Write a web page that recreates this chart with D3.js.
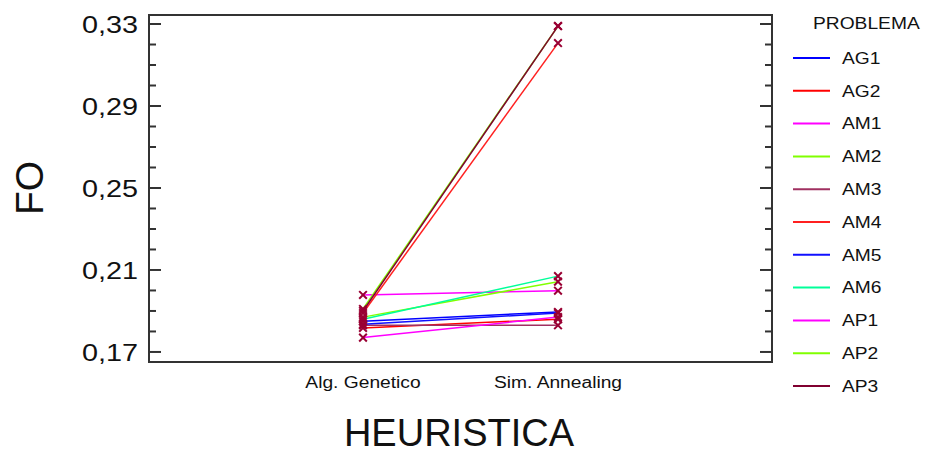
<!DOCTYPE html>
<html lang="es">
<head>
  <meta charset="UTF-8">
  <title>FO por HEURISTICA</title>
  <script src="https://d3js.org/d3.v7.min.js"></script>
  <style>
    body { margin: 0; background: #fff; }
    text { font-family: "Liberation Sans", Arial, sans-serif; fill: #111; }
    .frame { fill: none; stroke: #333; stroke-width: 2; }
    .tick-line { stroke: #333; stroke-width: 2; }
    .series { fill: none; stroke-width: 1.5; }
  </style>
</head>
<body>
<svg width="928" height="453"></svg>
<script>
  // categorias del eje X
  const heuristics = ["Alg. Genetico", "Sim. Annealing"];

  // problemas (series) y sus colores
  const problems = ["AG1", "AG2", "AM1", "AM2", "AM3", "AM4", "AM5", "AM6", "AP1", "AP2", "AP3"];
  const colors = ["#0000ff", "#ff0000", "#ff00ff", "#80ff00", "#a03060", "#ff2020",
                  "#1010ff", "#00ff99", "#ff00ff", "#80ff00", "#800030"];

  // FO por heuristica: [Alg. Genetico, Sim. Annealing]
  const AG1 = [0.1850, 0.1895];
  const AG2 = [0.1817, 0.1860];
  const AM1 = [0.1978, 0.1999];
  const AM2 = [0.1870, 0.2043];
  const AM3 = [0.1830, 0.1830];
  const AM4 = [0.1890, 0.3207];
  const AM5 = [0.1835, 0.1890];
  const AM6 = [0.1860, 0.2070];
  const AP1 = [0.1770, 0.1870];
  const AP2 = [0.1910, 0.3290];
  const AP3 = [0.1900, 0.3290];
  const seriesValues = [AG1, AG2, AM1, AM2, AM3, AM4, AM5, AM6, AP1, AP2, AP3];

  const majorTicks = [0.17, 0.21, 0.25, 0.29, 0.33];
  const minorTicks = [0.18, 0.19, 0.20, 0.22, 0.23, 0.24, 0.26, 0.27, 0.28, 0.30, 0.31, 0.32];

  const svg = d3.select("svg");
  const plot = {left: 149, right: 772, top: 15, bottom: 362};

  const x = d3.scalePoint().domain(heuristics).range([plot.left, plot.right]).padding(1.0975);
  const y = d3.scaleLinear().domain([0.1651, 0.3344]).range([plot.bottom, plot.top]);

  const fmt = d => d3.format(".2f")(d).replace(".", ",");

  // marco
  svg.append("rect").attr("class", "frame")
     .attr("x", plot.left).attr("y", plot.top)
     .attr("width", plot.right - plot.left).attr("height", plot.bottom - plot.top);

  // marcas del eje Y (izquierda y derecha, hacia adentro)
  const ticksG = svg.append("g");
  [[plot.left, 1], [plot.right, -1]].forEach(([x0, dir]) => {
    ticksG.selectAll(null).data(majorTicks).join("line").attr("class", "tick-line")
      .attr("x1", x0).attr("x2", x0 + dir * 12)
      .attr("y1", d => y(d)).attr("y2", d => y(d));
    ticksG.selectAll(null).data(minorTicks).join("line").attr("class", "tick-line")
      .attr("x1", x0).attr("x2", x0 + dir * 7)
      .attr("y1", d => y(d)).attr("y2", d => y(d));
  });

  svg.append("g").selectAll("text").data(majorTicks).join("text")
     .attr("class", "wide")
     .attr("x", plot.left - 11).attr("y", d => y(d))
     .attr("dy", "0.36em").attr("text-anchor", "end")
     .style("font-size", "24px").text(fmt);

  svg.append("g").selectAll("text").data(heuristics).join("text")
     .attr("class", "wide")
     .attr("x", d => x(d)).attr("y", 388)
     .attr("text-anchor", "middle")
     .style("font-size", "16px").text(d => d);

  // titulos de ejes
  svg.append("text").attr("x", 459).attr("y", 446).attr("text-anchor", "middle")
     .style("font-size", "38px").text("HEURISTICA");
  svg.append("text").attr("transform", "translate(43,188) rotate(-90)")
     .attr("text-anchor", "middle").style("font-size", "39px").text("FO");

  // series
  const line = d3.line().x((d, i) => x(heuristics[i])).y(d => y(d));
  svg.append("g").selectAll("path").data(seriesValues).join("path")
     .attr("class", "series")
     .attr("stroke", (d, i) => colors[i])
     .attr("d", line);

  const marker = d3.symbol().type(d3.symbolX || d3.symbolCross).size(40);
  const pts = seriesValues.flatMap(v => v.map((d, i) => ({h: heuristics[i], v: d})));
  svg.append("g").selectAll("path").data(pts).join("path")
     .attr("transform", d => `translate(${x(d.h)},${y(d.v)})`)
     .attr("d", marker)
     .attr("fill", "none").attr("stroke", "#990033").attr("stroke-width", 2);

  // leyenda
  const legend = svg.append("g");
  legend.append("text").attr("class", "wide")
     .attr("x", 813).attr("y", 29).style("font-size", "16px").text("PROBLEMA");
  const rowY = i => 58 + i * 32.8;
  const rows = legend.selectAll("g.row").data(problems).join("g").attr("class", "row");
  rows.append("line")
     .attr("x1", 793).attr("x2", 830)
     .attr("y1", (d, i) => rowY(i)).attr("y2", (d, i) => rowY(i))
     .attr("stroke", (d, i) => colors[i]).attr("stroke-width", 2);
  rows.append("text").attr("class", "wide")
     .attr("x", 842).attr("y", (d, i) => rowY(i)).attr("dy", "0.36em")
     .style("font-size", "16px").text(d => d);

  // el texto pequeno del original es mas ancho
  svg.selectAll("text.wide").each(function() {
    const w = this.getComputedTextLength();
    d3.select(this).attr("textLength", w * 1.2).attr("lengthAdjust", "spacingAndGlyphs");
  });
</script>
</body>
</html>
